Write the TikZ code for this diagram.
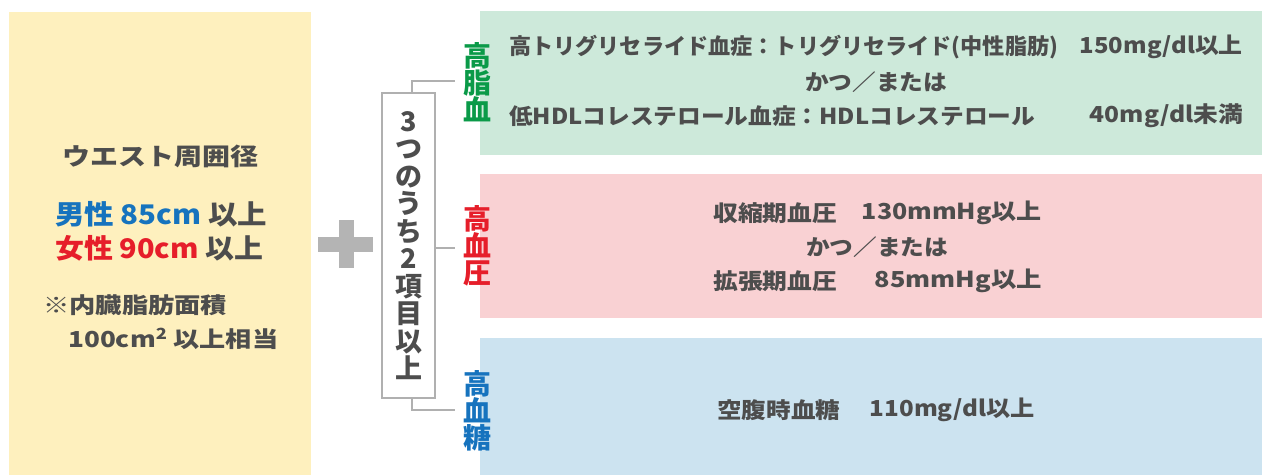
\documentclass[tikz,border=0pt]{standalone}
\usepackage{fontspec}
\usepackage{graphicx}
\newfontfamily\jp{Noto Sans CJK JP}
\newcommand{\fitw}[2]{\resizebox{#1}{\height}{#2}}
\definecolor{txt}{HTML}{4D4D4D}
\definecolor{yellowbg}{HTML}{FEF0BE}
\definecolor{greenbg}{HTML}{CDE9DA}
\definecolor{pinkbg}{HTML}{F9D1D3}
\definecolor{bluebg}{HTML}{CCE3F0}
\definecolor{lgreen}{HTML}{0A9A48}
\definecolor{lred}{HTML}{E61E2A}
\definecolor{lblue}{HTML}{1673BE}
\definecolor{linegray}{HTML}{B0B0B0}
\definecolor{plusgray}{HTML}{B4B4B4}
\tikzset{
  panel/.style={anchor=north west, inner sep=0, draw=none},
  rt/.style={inner sep=0, text=txt, font=\jp\bfseries\fontsize{22}{22}\selectfont},
  lt/.style={inner sep=0, text=txt, anchor=west},
  lab/.style={inner sep=0, align=center, font=\jp\bfseries\fontsize{28}{27}\selectfont},
  gbox/.style={draw=linegray, line width=2, fill=white, minimum width=53, minimum height=305,
    inner sep=0, align=center, text=txt, font=\jp\bfseries\fontsize{27}{27.5}\selectfont},
  conn/.style={draw=linegray, line width=2}
}
\begin{document}
\begin{tikzpicture}[x=1pt,y=-1pt]
\useasboundingbox[fill=white] (0,0) rectangle (1265,475);
% panels
\node[panel, fill=yellowbg, minimum width=302, minimum height=463] (waist) at (9,12) {};
\node[panel, fill=greenbg, minimum width=782, minimum height=144] (gpan) at (480,11) {};
\node[panel, fill=pinkbg, minimum width=782, minimum height=144] (ppan) at (480,174) {};
\node[panel, fill=bluebg, minimum width=782, minimum height=137] (bpan) at (480,338) {};
% left texts
\node[lt, font=\jp\bfseries\fontsize{24}{24}\selectfont] (w1) at (62,156) {\fitw{196pt}{ウエスト周囲径}};
\node[lt, font=\jp\bfseries\fontsize{27}{27}\selectfont] (w2) at (55,214) {\fitw{212pt}{\textcolor{lblue}{男性 85cm} 以上}};
\node[lt, font=\jp\bfseries\fontsize{27}{27}\selectfont] (w3) at (55,248) {\fitw{208pt}{\textcolor{lred}{女性 90cm} 以上}};
\node[lt, font=\jp\bfseries\fontsize{22}{22}\selectfont] (w4) at (43,305) {\fitw{184pt}{※内臓脂肪面積}};
\node[lt, font=\jp\bfseries\fontsize{22}{22}\selectfont] (w5) at (68,339) {\fitw{210pt}{100cm\textsuperscript{2} 以上相当}};
% plus sign
\fill[plusgray] (318,237) rectangle (373,252);
\fill[plusgray] (339,220) rectangle (354,268);
% count box
\node[gbox] (cnt) at (408.5,245.5) {3\\つ\\の\\う\\ち\\2\\項\\目\\以\\上};
\coordinate (e1) at (455,81);
\coordinate (e2) at (455,248);
\coordinate (e3) at (455,410);
\draw[conn] ([xshift=3.5]cnt.north) |- (e1);
\draw[conn] (cnt.east |- e2) -- (e2);
\draw[conn] ([xshift=3.5]cnt.south) |- (e3);
% labels
\node[lab, text=lgreen] (l1) at (477,82) {高\\脂\\血};
\node[lab, text=lred] (l2) at (477,246) {高\\血\\圧};
\node[lab, text=lblue] (l3) at (477,411) {高\\血\\糖};
% green texts
\node[rt, anchor=west] (g1a) at (509,47) {\fitw{549pt}{高トリグリセライド血症：トリグリセライド(中性脂肪)}};
\node[rt, anchor=east] (g1b) at (1243,47) {\fitw{163pt}{150mg/dl以上}};
\node[rt] (g2) at (876,82) {\fitw{142pt}{かつ／または}};
\node[rt, anchor=west] (g3a) at (509,116) {\fitw{526pt}{低HDLコレステロール血症：HDLコレステロール}};
\node[rt, anchor=east] (g3b) at (1243,116) {\fitw{153pt}{40mg/dl未満}};
% pink texts
\node[rt, anchor=west] (p1a) at (713,213) {\fitw{124pt}{収縮期血圧}};
\node[rt, anchor=east] (p1b) at (1042,213) {\fitw{180pt}{130mmHg以上}};
\node[rt] (p2) at (877,247) {\fitw{142pt}{かつ／または}};
\node[rt, anchor=west] (p3a) at (713,281) {\fitw{124pt}{拡張期血圧}};
\node[rt, anchor=east] (p3b) at (1042,281) {\fitw{167pt}{85mmHg以上}};
% blue texts
\node[rt, anchor=west] (b1a) at (717,410) {\fitw{123pt}{空腹時血糖}};
\node[rt, anchor=east] (b1b) at (1035,410) {\fitw{165pt}{110mg/dl以上}};
\end{tikzpicture}
\end{document}
